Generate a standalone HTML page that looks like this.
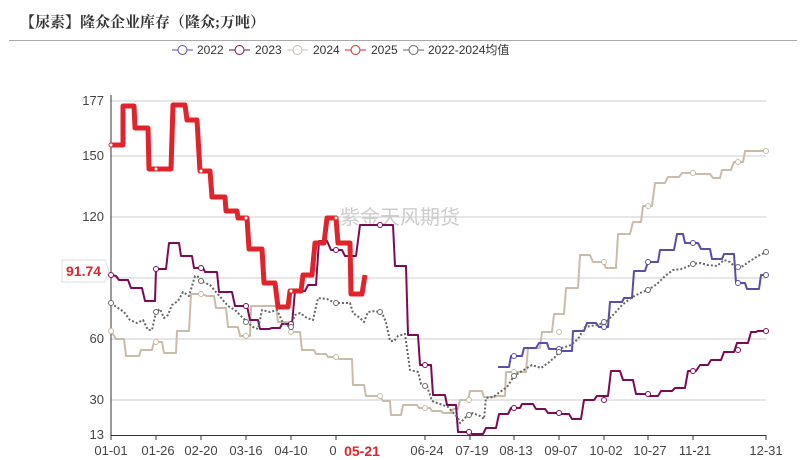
<!DOCTYPE html>
<html><head><meta charset="utf-8"><style>
body{margin:0;background:#fff;}
svg{display:block;font-family:"Liberation Sans","Noto Sans CJK SC",sans-serif;}
</style></head><body>
<svg width="807" height="460" viewBox="0 0 807 460" xmlns="http://www.w3.org/2000/svg">
<text x="20" y="27" font-size="15" font-weight="bold" fill="#333" font-family="'Liberation Serif','Noto Serif CJK SC',serif">【尿素】隆众企业库存（隆众;万吨）</text>
<line x1="9" y1="40.5" x2="797" y2="40.5" stroke="#aaa" stroke-width="1"/>
<g font-size="12" fill="#333">
<line x1="172" y1="50" x2="193" y2="50" stroke="#5b4ca8"/><circle cx="182.5" cy="50" r="4.5" fill="#fff" stroke="#5b4ca8"/><text x="197" y="54">2022</text>
<line x1="229" y1="50" x2="250" y2="50" stroke="#7d0a55"/><circle cx="239.5" cy="50" r="4.5" fill="#fff" stroke="#7d0a55"/><text x="255" y="54">2023</text>
<line x1="287" y1="50" x2="308" y2="50" stroke="#c9bcaa"/><circle cx="297.5" cy="50" r="4.5" fill="#fff" stroke="#c9bcaa"/><text x="313" y="54">2024</text>
<line x1="345" y1="50" x2="366" y2="50" stroke="#e0242b"/><circle cx="355.5" cy="50" r="4.5" fill="#fff" stroke="#e0242b"/><text x="371" y="54">2025</text>
<line x1="403" y1="50" x2="424" y2="50" stroke="#666"/><circle cx="413.5" cy="50" r="4.5" fill="#fff" stroke="#666"/><text x="428" y="54">2022-2024均值</text>
</g>
<g stroke="#ccc" stroke-width="1">
<line x1="111" y1="101" x2="766" y2="101"/><line x1="111" y1="156" x2="766" y2="156"/><line x1="111" y1="217" x2="766" y2="217"/><line x1="111" y1="278" x2="766" y2="278"/><line x1="111" y1="339" x2="766" y2="339"/><line x1="111" y1="400" x2="766" y2="400"/>
</g>
<g font-size="13" fill="#444" text-anchor="end">
<text x="104" y="105">177</text><text x="104" y="160">150</text><text x="104" y="221">120</text><text x="104" y="343">60</text><text x="104" y="404">30</text><text x="104" y="439">13</text>
</g>
<text x="340" y="224" font-size="20" fill="#ccc" font-family="'Noto Sans CJK SC',sans-serif">紫金天风期货</text>
<line x1="111" y1="95" x2="111" y2="435" stroke="#333"/>
<line x1="111" y1="435.5" x2="766" y2="435.5" stroke="#333"/>
<g stroke="#333"><line x1="111" y1="435" x2="111" y2="440"/><line x1="156" y1="435" x2="156" y2="440"/><line x1="201" y1="435" x2="201" y2="440"/><line x1="246" y1="435" x2="246" y2="440"/><line x1="291" y1="435" x2="291" y2="440"/><line x1="336" y1="435" x2="336" y2="440"/><line x1="425" y1="435" x2="425" y2="440"/><line x1="470" y1="435" x2="470" y2="440"/><line x1="514" y1="435" x2="514" y2="440"/><line x1="559" y1="435" x2="559" y2="440"/><line x1="604" y1="435" x2="604" y2="440"/><line x1="648" y1="435" x2="648" y2="440"/><line x1="693" y1="435" x2="693" y2="440"/><line x1="766" y1="435" x2="766" y2="440"/></g>
<g font-size="13" fill="#444" text-anchor="middle">
<text x="111" y="455">01-01</text><text x="158" y="455">01-26</text><text x="201" y="455">02-20</text><text x="246" y="455">03-16</text><text x="291" y="455">04-10</text><text x="333" y="455">0</text><text x="427" y="455">06-24</text><text x="472" y="455">07-19</text><text x="516" y="455">08-13</text><text x="561" y="455">09-07</text><text x="606" y="455">10-02</text><text x="650" y="455">10-27</text><text x="695" y="455">11-21</text><text x="766" y="455">12-31</text>
</g>
<text x="362" y="456" font-size="14" font-weight="bold" fill="#e0242b" text-anchor="middle">05-21</text>
<g fill="none" stroke-linejoin="round">
<polyline stroke="#c9bcaa" stroke-width="2" points="111,331 116,339 124,339 126,356 139,356 141,350 152,350 154,342 162,342 164,353 176,353 177,331 189,331 191,294 202,294 207,296 214,296 216,308 226,308 228,327 238,327 240,336 250,336 251,306 276,306 278,322 288,322 293,332 300,332 302,350 314,350 316,354 326,354 328,357 337,357 339,359 352,359 353,385 364,385 366,396 380,396 383,401 390,401 391,415 401,415 403,405 417,405 419,408 430,408 432,411 441,411 443,413 451,413 453,409 458,409 460,400 468,400 470,391 482,391 484,397 495,397 497,396 505,396 506,372 526,372 528,348 540,348 542,332 552,332 554,314 564,314 566,288 578,288 580,255 590,255 593,262 603,262 606,268 616,268 618,234 630,234 633,222 641,222 643,206 652,206 655,183 665,183 668,177 679,177 682,173 692,173 695,174 710,174 713,178 720,178 722,170 731,170 734,162 743,162 745,151 766,151"/>
<polyline stroke="#7d0a55" stroke-width="2" points="111,275 116,276 119,280 128,280 131,288 142,288 145,301 155,301 156,269 166,269 169,243 179,243 181,256 192,256 194,268 203,268 205,272 217,272 219,292 232,292 235,306 247,306 250,320 258,320 260,329 269,329 272,328 280,328 282,324 292,324 295,291 305,291 308,285 316,285 319,241 327,241 331,250 342,250 345,256 356,256 360,225 393,225 395,266 406,266 408,335 418,335 420,365 431,365 433,395 445,395 447,405 456,405 458,432 469,432 472,434 483,434 486,428 496,428 499,414 508,414 511,408 520,408 522,404 533,404 536,409 545,409 548,413 558,413 561,414 569,414 572,419 581,419 584,400 594,400 597,396 608,396 611,371 620,371 623,380 633,380 636,394 647,394 649,396 658,396 661,391 672,391 675,388 685,388 688,371 696,371 700,365 708,365 711,360 721,360 724,352 734,352 737,343 748,343 751,332 756,332 758,331 766,331"/>
<polyline stroke="#5b4ca8" stroke-width="2" points="498,367 509,367 511,356 522,356 524,348 536,348 539,343 547,343 549,349 558,349 559,351 572,351 573,331 584,331 587,323 596,323 599,327 608,327 610,302 622,302 624,298 632,298 634,271 645,271 648,262 658,262 660,250 674,250 677,234 683,234 685,243 698,243 701,249 710,249 712,259 722,259 724,254 734,254 736,283 745,283 747,289 759,289 761,275 766,275"/>
<polyline stroke="#666" stroke-width="2" stroke-dasharray="2,2" points="111,303 118,308 124,312 130,320 137,323 143,320 148,330 152,330 156,312 160,309 164,318 168,315 172,305 178,301 183,292 189,296 195,276 199,277 203,282 210,285 216,292 222,299 228,306 235,310 241,316 247,322 253,327 258,329 262,310 266,311 270,312 277,310 283,323 290,327 295,315 300,313 307,318 313,320 318,298 327,299 333,302 338,303 350,303 353,313 360,318 364,322 368,312 375,311 382,313 386,322 390,341 394,341 398,336 405,334 410,370 418,372 421,384 427,386 432,401 448,407 458,418 460,423 466,417 473,413 480,416 484,419 486,398 493,397 500,392 507,387 514,376 522,371 532,365 541,368 548,363 555,357 562,348 571,345 578,339 585,327 597,325 606,322 614,314 622,305 631,298 640,293 648,290 657,284 665,276 673,270 681,269 687,267 692,264 700,263 708,265 717,266 724,260 730,262 736,268 743,266 750,261 758,256 766,252"/>
<polyline stroke="#e0242b" stroke-width="5" points="111,145 123,145 123,106 134,106 135,128 148,128 149,169 171,169 173,105 185,105 187,120 197,120 200,171 210,171 212,197 225,197 226,211 237,211 238,218 247,218 249,249 262,249 264,283 275,283 278,307 288,307 290,291 301,291 303,275 312,275 315,243 324,243 327,218 336,218 338,243 350,243 351,294 362,294 365,275"/>
</g>
<g fill="#fff" stroke-width="1">
<g stroke="#c9bcaa"><circle cx="111" cy="331" r="2.5"/><circle cx="156" cy="342" r="2.5"/><circle cx="201" cy="294" r="2.5"/><circle cx="246" cy="336" r="2.5"/><circle cx="291" cy="332" r="2.5"/><circle cx="336" cy="357" r="2.5"/><circle cx="380" cy="396" r="2.5"/><circle cx="425" cy="408" r="2.5"/><circle cx="469" cy="400" r="2.5"/><circle cx="514" cy="372" r="2.5"/><circle cx="559" cy="332" r="2.5"/><circle cx="604" cy="262" r="2.5"/><circle cx="648" cy="206" r="2.5"/><circle cx="693" cy="173" r="2.5"/><circle cx="738" cy="162" r="2.5"/><circle cx="766" cy="151" r="2.5"/></g>
<g stroke="#7d0a55"><circle cx="111" cy="275" r="2.5"/><circle cx="156" cy="269" r="2.5"/><circle cx="201" cy="268" r="2.5"/><circle cx="246" cy="306" r="2.5"/><circle cx="291" cy="324" r="2.5"/><circle cx="336" cy="250" r="2.5"/><circle cx="380" cy="225" r="2.5"/><circle cx="425" cy="365" r="2.5"/><circle cx="469" cy="432" r="2.5"/><circle cx="514" cy="408" r="2.5"/><circle cx="559" cy="413" r="2.5"/><circle cx="604" cy="400" r="2.5"/><circle cx="648" cy="394" r="2.5"/><circle cx="693" cy="371" r="2.5"/><circle cx="738" cy="350" r="2.5"/><circle cx="766" cy="331" r="2.5"/></g>
<g stroke="#5b4ca8"><circle cx="514" cy="356" r="2.5"/><circle cx="559" cy="349" r="2.5"/><circle cx="604" cy="327" r="2.5"/><circle cx="648" cy="262" r="2.5"/><circle cx="693" cy="243" r="2.5"/><circle cx="738" cy="283" r="2.5"/><circle cx="766" cy="275" r="2.5"/></g>
<g stroke="#666"><circle cx="111" cy="303" r="2.5"/><circle cx="156" cy="312" r="2.5"/><circle cx="201" cy="281" r="2.5"/><circle cx="246" cy="322" r="2.5"/><circle cx="291" cy="327" r="2.5"/><circle cx="336" cy="303" r="2.5"/><circle cx="380" cy="312" r="2.5"/><circle cx="425" cy="386" r="2.5"/><circle cx="469" cy="415" r="2.5"/><circle cx="514" cy="376" r="2.5"/><circle cx="559" cy="352" r="2.5"/><circle cx="604" cy="322" r="2.5"/><circle cx="648" cy="290" r="2.5"/><circle cx="693" cy="264" r="2.5"/><circle cx="738" cy="267" r="2.5"/><circle cx="766" cy="252" r="2.5"/></g>
<g stroke="#e0242b"><circle cx="111" cy="145" r="2"/><circle cx="156" cy="169" r="2"/><circle cx="201" cy="171" r="2"/><circle cx="246" cy="218" r="2"/><circle cx="291" cy="291" r="2"/><circle cx="336" cy="218" r="2"/></g>
</g>
<path d="M62,260 H105 L109,271 L105,282 H62 Z" fill="#fff" stroke="#ddd"/>
<text x="66" y="276" font-size="14" font-weight="bold" fill="#e0242b">91.74</text>
</svg>
</body></html>
